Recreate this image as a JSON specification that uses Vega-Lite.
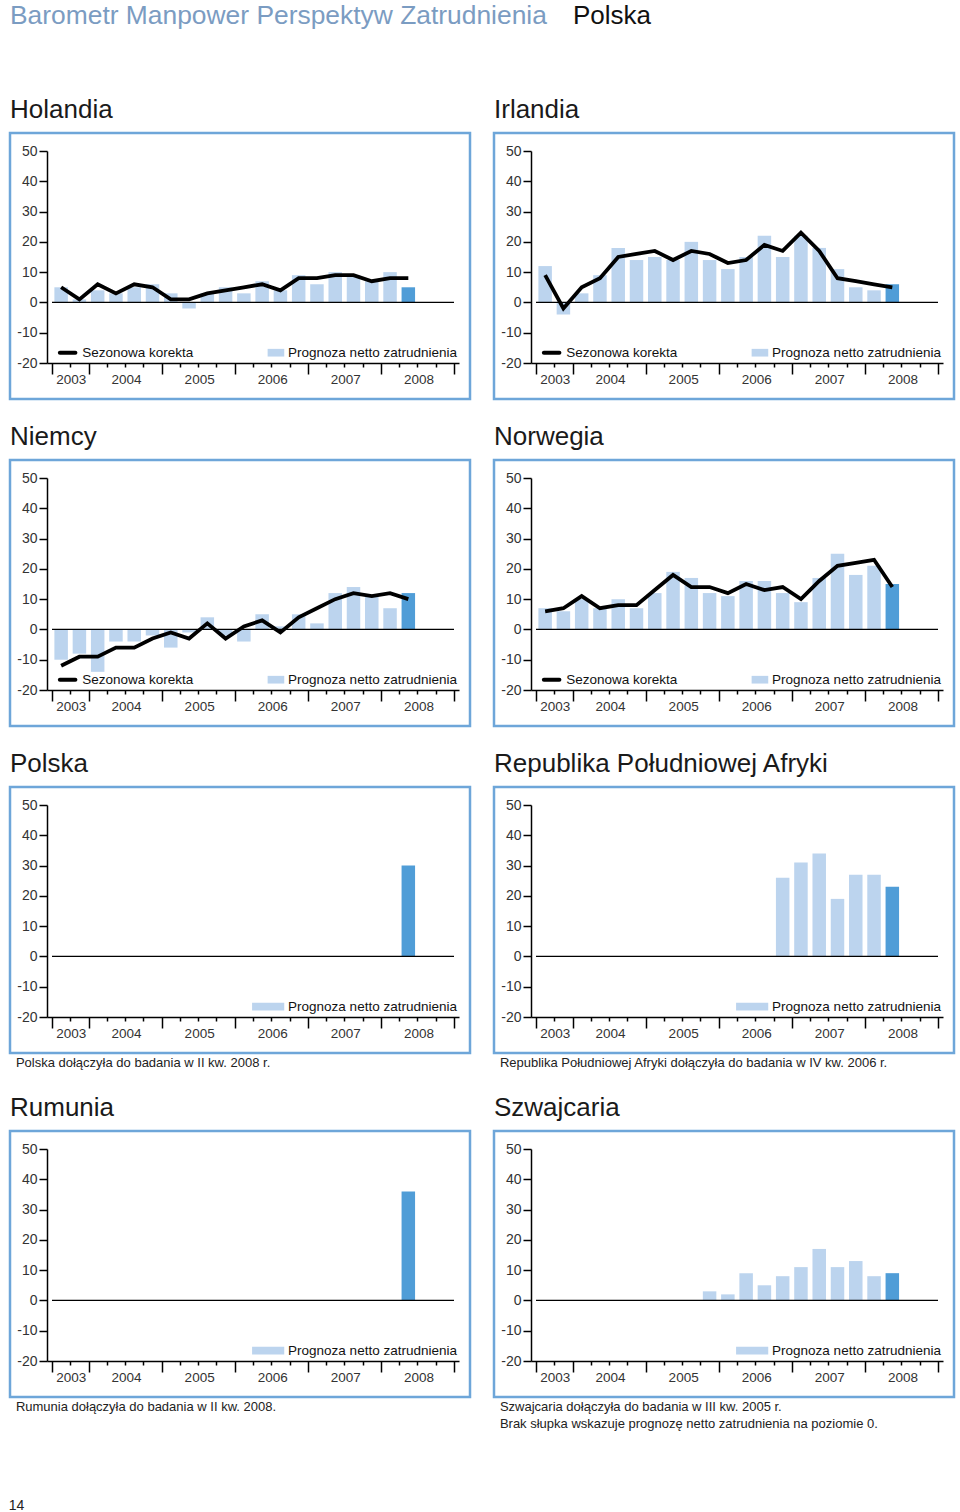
{
  "$schema": "https://vega.github.io/schema/vega-lite/v6.json",
  "background": "white",
  "padding": {"left": 8, "top": 2, "right": 4, "bottom": 2},
  "config": {
    "font": "Liberation Sans",
    "view": {"stroke": "#6ea6d9", "strokeWidth": 2.5},
    "title": {"anchor": "start", "fontSize": 26, "fontWeight": "normal", "color": "#1a1a1a", "baseline": "alphabetic", "offset": 10, "font": "Liberation Sans"},
    "axis": {"grid": false},
    "text": {"font": "Liberation Sans"}
  },
  "title": {"text": "14", "orient": "bottom", "anchor": "start", "fontSize": 14, "color": "#222", "baseline": "top", "offset": 66},
  "spacing": 21,
  "datasets": {
    "holandia": [
      {"kw": 1, "okres": "2003 III", "prognoza": 5, "korekta": 5, "typ": "archiwalna"},
      {"kw": 2, "okres": "2003 IV", "prognoza": 1, "korekta": 1, "typ": "archiwalna"},
      {"kw": 3, "okres": "2004 I", "prognoza": 4, "korekta": 6, "typ": "archiwalna"},
      {"kw": 4, "okres": "2004 II", "prognoza": 3, "korekta": 3, "typ": "archiwalna"},
      {"kw": 5, "okres": "2004 III", "prognoza": 5, "korekta": 6, "typ": "archiwalna"},
      {"kw": 6, "okres": "2004 IV", "prognoza": 6, "korekta": 5, "typ": "archiwalna"},
      {"kw": 7, "okres": "2005 I", "prognoza": 3, "korekta": 1, "typ": "archiwalna"},
      {"kw": 8, "okres": "2005 II", "prognoza": -2, "korekta": 1, "typ": "archiwalna"},
      {"kw": 9, "okres": "2005 III", "prognoza": 3, "korekta": 3, "typ": "archiwalna"},
      {"kw": 10, "okres": "2005 IV", "prognoza": 5, "korekta": 4, "typ": "archiwalna"},
      {"kw": 11, "okres": "2006 I", "prognoza": 3, "korekta": 5, "typ": "archiwalna"},
      {"kw": 12, "okres": "2006 II", "prognoza": 7, "korekta": 6, "typ": "archiwalna"},
      {"kw": 13, "okres": "2006 III", "prognoza": 4, "korekta": 4, "typ": "archiwalna"},
      {"kw": 14, "okres": "2006 IV", "prognoza": 9, "korekta": 8, "typ": "archiwalna"},
      {"kw": 15, "okres": "2007 I", "prognoza": 6, "korekta": 8, "typ": "archiwalna"},
      {"kw": 16, "okres": "2007 II", "prognoza": 10, "korekta": 9, "typ": "archiwalna"},
      {"kw": 17, "okres": "2007 III", "prognoza": 9, "korekta": 9, "typ": "archiwalna"},
      {"kw": 18, "okres": "2007 IV", "prognoza": 7, "korekta": 7, "typ": "archiwalna"},
      {"kw": 19, "okres": "2008 I", "prognoza": 10, "korekta": 8, "typ": "archiwalna"},
      {"kw": 20, "okres": "2008 II", "prognoza": 5, "korekta": 8, "typ": "aktualna"}
    ],
    "irlandia": [
      {"kw": 1, "okres": "2003 III", "prognoza": 12, "korekta": 9, "typ": "archiwalna"},
      {"kw": 2, "okres": "2003 IV", "prognoza": -4, "korekta": -2, "typ": "archiwalna"},
      {"kw": 3, "okres": "2004 I", "prognoza": 3, "korekta": 5, "typ": "archiwalna"},
      {"kw": 4, "okres": "2004 II", "prognoza": 9, "korekta": 8, "typ": "archiwalna"},
      {"kw": 5, "okres": "2004 III", "prognoza": 18, "korekta": 15, "typ": "archiwalna"},
      {"kw": 6, "okres": "2004 IV", "prognoza": 14, "korekta": 16, "typ": "archiwalna"},
      {"kw": 7, "okres": "2005 I", "prognoza": 15, "korekta": 17, "typ": "archiwalna"},
      {"kw": 8, "okres": "2005 II", "prognoza": 14, "korekta": 14, "typ": "archiwalna"},
      {"kw": 9, "okres": "2005 III", "prognoza": 20, "korekta": 17, "typ": "archiwalna"},
      {"kw": 10, "okres": "2005 IV", "prognoza": 14, "korekta": 16, "typ": "archiwalna"},
      {"kw": 11, "okres": "2006 I", "prognoza": 11, "korekta": 13, "typ": "archiwalna"},
      {"kw": 12, "okres": "2006 II", "prognoza": 15, "korekta": 14, "typ": "archiwalna"},
      {"kw": 13, "okres": "2006 III", "prognoza": 22, "korekta": 19, "typ": "archiwalna"},
      {"kw": 14, "okres": "2006 IV", "prognoza": 15, "korekta": 17, "typ": "archiwalna"},
      {"kw": 15, "okres": "2007 I", "prognoza": 22, "korekta": 23, "typ": "archiwalna"},
      {"kw": 16, "okres": "2007 II", "prognoza": 18, "korekta": 17, "typ": "archiwalna"},
      {"kw": 17, "okres": "2007 III", "prognoza": 11, "korekta": 8, "typ": "archiwalna"},
      {"kw": 18, "okres": "2007 IV", "prognoza": 5, "korekta": 7, "typ": "archiwalna"},
      {"kw": 19, "okres": "2008 I", "prognoza": 4, "korekta": 6, "typ": "archiwalna"},
      {"kw": 20, "okres": "2008 II", "prognoza": 6, "korekta": 5, "typ": "aktualna"}
    ],
    "niemcy": [
      {"kw": 1, "okres": "2003 III", "prognoza": -10, "korekta": -12, "typ": "archiwalna"},
      {"kw": 2, "okres": "2003 IV", "prognoza": -8, "korekta": -9, "typ": "archiwalna"},
      {"kw": 3, "okres": "2004 I", "prognoza": -14, "korekta": -9, "typ": "archiwalna"},
      {"kw": 4, "okres": "2004 II", "prognoza": -4, "korekta": -6, "typ": "archiwalna"},
      {"kw": 5, "okres": "2004 III", "prognoza": -4, "korekta": -6, "typ": "archiwalna"},
      {"kw": 6, "okres": "2004 IV", "prognoza": -2, "korekta": -3, "typ": "archiwalna"},
      {"kw": 7, "okres": "2005 I", "prognoza": -6, "korekta": -1, "typ": "archiwalna"},
      {"kw": 8, "okres": "2005 II", "prognoza": -1, "korekta": -3, "typ": "archiwalna"},
      {"kw": 9, "okres": "2005 III", "prognoza": 4, "korekta": 2, "typ": "archiwalna"},
      {"kw": 10, "okres": "2005 IV", "prognoza": -2, "korekta": -3, "typ": "archiwalna"},
      {"kw": 11, "okres": "2006 I", "prognoza": -4, "korekta": 1, "typ": "archiwalna"},
      {"kw": 12, "okres": "2006 II", "prognoza": 5, "korekta": 3, "typ": "archiwalna"},
      {"kw": 13, "okres": "2006 III", "prognoza": 1, "korekta": -1, "typ": "archiwalna"},
      {"kw": 14, "okres": "2006 IV", "prognoza": 5, "korekta": 4, "typ": "archiwalna"},
      {"kw": 15, "okres": "2007 I", "prognoza": 2, "korekta": 7, "typ": "archiwalna"},
      {"kw": 16, "okres": "2007 II", "prognoza": 12, "korekta": 10, "typ": "archiwalna"},
      {"kw": 17, "okres": "2007 III", "prognoza": 14, "korekta": 12, "typ": "archiwalna"},
      {"kw": 18, "okres": "2007 IV", "prognoza": 11, "korekta": 11, "typ": "archiwalna"},
      {"kw": 19, "okres": "2008 I", "prognoza": 7, "korekta": 12, "typ": "archiwalna"},
      {"kw": 20, "okres": "2008 II", "prognoza": 12, "korekta": 10, "typ": "aktualna"}
    ],
    "norwegia": [
      {"kw": 1, "okres": "2003 III", "prognoza": 7, "korekta": 6, "typ": "archiwalna"},
      {"kw": 2, "okres": "2003 IV", "prognoza": 6, "korekta": 7, "typ": "archiwalna"},
      {"kw": 3, "okres": "2004 I", "prognoza": 10, "korekta": 11, "typ": "archiwalna"},
      {"kw": 4, "okres": "2004 II", "prognoza": 7, "korekta": 7, "typ": "archiwalna"},
      {"kw": 5, "okres": "2004 III", "prognoza": 10, "korekta": 8, "typ": "archiwalna"},
      {"kw": 6, "okres": "2004 IV", "prognoza": 7, "korekta": 8, "typ": "archiwalna"},
      {"kw": 7, "okres": "2005 I", "prognoza": 12, "korekta": 13, "typ": "archiwalna"},
      {"kw": 8, "okres": "2005 II", "prognoza": 19, "korekta": 18, "typ": "archiwalna"},
      {"kw": 9, "okres": "2005 III", "prognoza": 17, "korekta": 14, "typ": "archiwalna"},
      {"kw": 10, "okres": "2005 IV", "prognoza": 12, "korekta": 14, "typ": "archiwalna"},
      {"kw": 11, "okres": "2006 I", "prognoza": 11, "korekta": 12, "typ": "archiwalna"},
      {"kw": 12, "okres": "2006 II", "prognoza": 16, "korekta": 15, "typ": "archiwalna"},
      {"kw": 13, "okres": "2006 III", "prognoza": 16, "korekta": 13, "typ": "archiwalna"},
      {"kw": 14, "okres": "2006 IV", "prognoza": 12, "korekta": 14, "typ": "archiwalna"},
      {"kw": 15, "okres": "2007 I", "prognoza": 9, "korekta": 10, "typ": "archiwalna"},
      {"kw": 16, "okres": "2007 II", "prognoza": 17, "korekta": 16, "typ": "archiwalna"},
      {"kw": 17, "okres": "2007 III", "prognoza": 25, "korekta": 21, "typ": "archiwalna"},
      {"kw": 18, "okres": "2007 IV", "prognoza": 18, "korekta": 22, "typ": "archiwalna"},
      {"kw": 19, "okres": "2008 I", "prognoza": 21, "korekta": 23, "typ": "archiwalna"},
      {"kw": 20, "okres": "2008 II", "prognoza": 15, "korekta": 14, "typ": "aktualna"}
    ],
    "polska": [
      {"kw": 20, "okres": "2008 II", "prognoza": 30, "typ": "aktualna"}
    ],
    "rpa": [
      {"kw": 14, "okres": "2006 IV", "prognoza": 26, "typ": "archiwalna"},
      {"kw": 15, "okres": "2007 I", "prognoza": 31, "typ": "archiwalna"},
      {"kw": 16, "okres": "2007 II", "prognoza": 34, "typ": "archiwalna"},
      {"kw": 17, "okres": "2007 III", "prognoza": 19, "typ": "archiwalna"},
      {"kw": 18, "okres": "2007 IV", "prognoza": 27, "typ": "archiwalna"},
      {"kw": 19, "okres": "2008 I", "prognoza": 27, "typ": "archiwalna"},
      {"kw": 20, "okres": "2008 II", "prognoza": 23, "typ": "aktualna"}
    ],
    "rumunia": [
      {"kw": 20, "okres": "2008 II", "prognoza": 36, "typ": "aktualna"}
    ],
    "szwajcaria": [
      {"kw": 9, "okres": "2005 III", "prognoza": 0, "typ": "archiwalna"},
      {"kw": 10, "okres": "2005 IV", "prognoza": 3, "typ": "archiwalna"},
      {"kw": 11, "okres": "2006 I", "prognoza": 2, "typ": "archiwalna"},
      {"kw": 12, "okres": "2006 II", "prognoza": 9, "typ": "archiwalna"},
      {"kw": 13, "okres": "2006 III", "prognoza": 5, "typ": "archiwalna"},
      {"kw": 14, "okres": "2006 IV", "prognoza": 8, "typ": "archiwalna"},
      {"kw": 15, "okres": "2007 I", "prognoza": 11, "typ": "archiwalna"},
      {"kw": 16, "okres": "2007 II", "prognoza": 17, "typ": "archiwalna"},
      {"kw": 17, "okres": "2007 III", "prognoza": 11, "typ": "archiwalna"},
      {"kw": 18, "okres": "2007 IV", "prognoza": 13, "typ": "archiwalna"},
      {"kw": 19, "okres": "2008 I", "prognoza": 8, "typ": "archiwalna"},
      {"kw": 20, "okres": "2008 II", "prognoza": 9, "typ": "aktualna"}
    ]
  },
  "vconcat": [
    {
      "spacing": 10,
      "hconcat": [
        {"width": 553, "height": 45, "view": {"stroke": null}, "data": {"values": []}, "mark": "point",
         "title": {"text": "Barometr Manpower Perspektyw Zatrudnienia", "color": "#7b9cc2", "offset": 0, "fontSize": 26.4}},
        {"width": 100, "height": 45, "view": {"stroke": null}, "data": {"values": []}, "mark": "point",
         "title": {"text": "Polska", "color": "#111111", "offset": 0}}
      ]
    },
    {
      "spacing": 20,
      "hconcat": [
        {
          "width": 460, "height": 266, "title": {"text": "Holandia"}, "data": {"name": "holandia"},
          "resolve": {"axis": {"x": "independent", "y": "independent"}},
          "layer": [
            {"mark": {"type": "bar", "width": 13.5},
             "encoding": {
               "x": {"field": "kw", "type": "quantitative", "scale": {"domain": [0.5, 22.5], "range": [37, 449], "nice": false, "zero": false},
                     "axis": {"values": [0.5,1.5,2.5,3.5,4.5,5.5,6.5,7.5,8.5,9.5,10.5,11.5,12.5,13.5,14.5,15.5,16.5,17.5,18.5,19.5,20.5,21.5,22.5], "offset": -36, "title": null, "grid": false, "domainColor": "#000", "domainWidth": 1.5, "tickColor": "#000", "tickWidth": 1.5, "tickSize": {"condition": {"test": "datum.value < 1 || (datum.value - 2.5) % 4 == 0", "value": 11}, "value": 4}, "labelExpr": "datum.value == 0.5 ? '2003' : datum.value == 2.5 ? '2004' : datum.value == 6.5 ? '2005' : datum.value == 10.5 ? '2006' : datum.value == 14.5 ? '2007' : datum.value == 18.5 ? '2008' : ''", "labelOffset": {"condition": [{"test": "datum.value < 1", "value": 18.7}, {"test": "datum.value > 20 || (datum.value - 2.5) % 4 != 0", "value": 0}], "value": 37.5}, "labelPadding": -2, "labelFontSize": 13.5, "labelColor": "#333", "labelFlush": false, "labelOverlap": false, "labelBound": false, "labelAlign": "center", "labelBaseline": "top"}},
               "y": {"field": "prognoza", "type": "quantitative", "scale": {"domain": [-20, 50], "range": [230, 18], "nice": false, "zero": false},
                     "axis": {"values": [-20,-10,0,10,20,30,40,50], "labelExpr": "'' + datum.value", "offset": -37, "title": null, "grid": false, "domainColor": "#000", "domainWidth": 1.5, "tickColor": "#000", "tickWidth": 1.5, "tickSize": 8, "labelPadding": 2, "labelFontSize": 14, "labelColor": "#333", "labelFlush": false, "labelOverlap": false, "labelBound": false}},
               "y2": {"datum": 0},
               "color": {"field": "typ", "type": "nominal", "scale": {"domain": ["archiwalna", "aktualna"], "range": ["#bcd4ee", "#509dd7"]}, "legend": null}
             }},
            {"data": {"values": [{}]}, "mark": {"type": "rule", "color": "#000", "strokeWidth": 1.3}, "encoding": {"x": {"datum": 0.5, "axis": null}, "x2": {"datum": 22.5}, "y": {"datum": 0, "axis": null}}},
            {"mark": {"type": "line", "color": "#000", "strokeWidth": 3.8}, "encoding": {"x": {"field": "kw", "type": "quantitative", "axis": null}, "y": {"field": "korekta", "type": "quantitative", "axis": null}}},
            {"data": {"values": [{}]}, "mark": {"type": "rule", "color": "#000", "strokeWidth": 4, "strokeCap": "round"}, "encoding": {"x": {"datum": 0.93, "axis": null}, "x2": {"datum": 1.78}, "y": {"datum": -16.6, "axis": null}}},
            {"data": {"values": [{}]}, "mark": {"type": "text", "text": "Sezonowa korekta", "align": "left", "baseline": "middle", "fontSize": 13.5, "color": "#111"}, "encoding": {"x": {"datum": 2.155, "axis": null}, "y": {"datum": -16.6, "axis": null}}},
            {"data": {"values": [{}]}, "mark": {"type": "rect", "color": "#bcd4ee"}, "encoding": {"x": {"datum": 12.3, "axis": null}, "x2": {"datum": 13.21}, "y": {"datum": -15.33, "axis": null}, "y2": {"datum": -17.87}}},
            {"data": {"values": [{}]}, "mark": {"type": "text", "text": "Prognoza netto zatrudnienia", "align": "left", "baseline": "middle", "fontSize": 13.5, "color": "#111"}, "encoding": {"x": {"datum": 13.42, "axis": null}, "y": {"datum": -16.6, "axis": null}}}
          ]
        },
        {
          "width": 460, "height": 266, "title": {"text": "Irlandia"}, "data": {"name": "irlandia"},
          "resolve": {"axis": {"x": "independent", "y": "independent"}},
          "layer": [
            {"mark": {"type": "bar", "width": 13.5},
             "encoding": {
               "x": {"field": "kw", "type": "quantitative", "scale": {"domain": [0.5, 22.5], "range": [37, 449], "nice": false, "zero": false},
                     "axis": {"values": [0.5,1.5,2.5,3.5,4.5,5.5,6.5,7.5,8.5,9.5,10.5,11.5,12.5,13.5,14.5,15.5,16.5,17.5,18.5,19.5,20.5,21.5,22.5], "offset": -36, "title": null, "grid": false, "domainColor": "#000", "domainWidth": 1.5, "tickColor": "#000", "tickWidth": 1.5, "tickSize": {"condition": {"test": "datum.value < 1 || (datum.value - 2.5) % 4 == 0", "value": 11}, "value": 4}, "labelExpr": "datum.value == 0.5 ? '2003' : datum.value == 2.5 ? '2004' : datum.value == 6.5 ? '2005' : datum.value == 10.5 ? '2006' : datum.value == 14.5 ? '2007' : datum.value == 18.5 ? '2008' : ''", "labelOffset": {"condition": [{"test": "datum.value < 1", "value": 18.7}, {"test": "datum.value > 20 || (datum.value - 2.5) % 4 != 0", "value": 0}], "value": 37.5}, "labelPadding": -2, "labelFontSize": 13.5, "labelColor": "#333", "labelFlush": false, "labelOverlap": false, "labelBound": false, "labelAlign": "center", "labelBaseline": "top"}},
               "y": {"field": "prognoza", "type": "quantitative", "scale": {"domain": [-20, 50], "range": [230, 18], "nice": false, "zero": false},
                     "axis": {"values": [-20,-10,0,10,20,30,40,50], "labelExpr": "'' + datum.value", "offset": -37, "title": null, "grid": false, "domainColor": "#000", "domainWidth": 1.5, "tickColor": "#000", "tickWidth": 1.5, "tickSize": 8, "labelPadding": 2, "labelFontSize": 14, "labelColor": "#333", "labelFlush": false, "labelOverlap": false, "labelBound": false}},
               "y2": {"datum": 0},
               "color": {"field": "typ", "type": "nominal", "scale": {"domain": ["archiwalna", "aktualna"], "range": ["#bcd4ee", "#509dd7"]}, "legend": null}
             }},
            {"data": {"values": [{}]}, "mark": {"type": "rule", "color": "#000", "strokeWidth": 1.3}, "encoding": {"x": {"datum": 0.5, "axis": null}, "x2": {"datum": 22.5}, "y": {"datum": 0, "axis": null}}},
            {"mark": {"type": "line", "color": "#000", "strokeWidth": 3.8}, "encoding": {"x": {"field": "kw", "type": "quantitative", "axis": null}, "y": {"field": "korekta", "type": "quantitative", "axis": null}}},
            {"data": {"values": [{}]}, "mark": {"type": "rule", "color": "#000", "strokeWidth": 4, "strokeCap": "round"}, "encoding": {"x": {"datum": 0.93, "axis": null}, "x2": {"datum": 1.78}, "y": {"datum": -16.6, "axis": null}}},
            {"data": {"values": [{}]}, "mark": {"type": "text", "text": "Sezonowa korekta", "align": "left", "baseline": "middle", "fontSize": 13.5, "color": "#111"}, "encoding": {"x": {"datum": 2.155, "axis": null}, "y": {"datum": -16.6, "axis": null}}},
            {"data": {"values": [{}]}, "mark": {"type": "rect", "color": "#bcd4ee"}, "encoding": {"x": {"datum": 12.3, "axis": null}, "x2": {"datum": 13.21}, "y": {"datum": -15.33, "axis": null}, "y2": {"datum": -17.87}}},
            {"data": {"values": [{}]}, "mark": {"type": "text", "text": "Prognoza netto zatrudnienia", "align": "left", "baseline": "middle", "fontSize": 13.5, "color": "#111"}, "encoding": {"x": {"datum": 13.42, "axis": null}, "y": {"datum": -16.6, "axis": null}}}
          ]
        }
      ]
    },
    {
      "spacing": 20,
      "hconcat": [
        {
          "width": 460, "height": 266, "title": {"text": "Niemcy"}, "data": {"name": "niemcy"},
          "resolve": {"axis": {"x": "independent", "y": "independent"}},
          "layer": [
            {"mark": {"type": "bar", "width": 13.5},
             "encoding": {
               "x": {"field": "kw", "type": "quantitative", "scale": {"domain": [0.5, 22.5], "range": [37, 449], "nice": false, "zero": false},
                     "axis": {"values": [0.5,1.5,2.5,3.5,4.5,5.5,6.5,7.5,8.5,9.5,10.5,11.5,12.5,13.5,14.5,15.5,16.5,17.5,18.5,19.5,20.5,21.5,22.5], "offset": -36, "title": null, "grid": false, "domainColor": "#000", "domainWidth": 1.5, "tickColor": "#000", "tickWidth": 1.5, "tickSize": {"condition": {"test": "datum.value < 1 || (datum.value - 2.5) % 4 == 0", "value": 11}, "value": 4}, "labelExpr": "datum.value == 0.5 ? '2003' : datum.value == 2.5 ? '2004' : datum.value == 6.5 ? '2005' : datum.value == 10.5 ? '2006' : datum.value == 14.5 ? '2007' : datum.value == 18.5 ? '2008' : ''", "labelOffset": {"condition": [{"test": "datum.value < 1", "value": 18.7}, {"test": "datum.value > 20 || (datum.value - 2.5) % 4 != 0", "value": 0}], "value": 37.5}, "labelPadding": -2, "labelFontSize": 13.5, "labelColor": "#333", "labelFlush": false, "labelOverlap": false, "labelBound": false, "labelAlign": "center", "labelBaseline": "top"}},
               "y": {"field": "prognoza", "type": "quantitative", "scale": {"domain": [-20, 50], "range": [230, 18], "nice": false, "zero": false},
                     "axis": {"values": [-20,-10,0,10,20,30,40,50], "labelExpr": "'' + datum.value", "offset": -37, "title": null, "grid": false, "domainColor": "#000", "domainWidth": 1.5, "tickColor": "#000", "tickWidth": 1.5, "tickSize": 8, "labelPadding": 2, "labelFontSize": 14, "labelColor": "#333", "labelFlush": false, "labelOverlap": false, "labelBound": false}},
               "y2": {"datum": 0},
               "color": {"field": "typ", "type": "nominal", "scale": {"domain": ["archiwalna", "aktualna"], "range": ["#bcd4ee", "#509dd7"]}, "legend": null}
             }},
            {"data": {"values": [{}]}, "mark": {"type": "rule", "color": "#000", "strokeWidth": 1.3}, "encoding": {"x": {"datum": 0.5, "axis": null}, "x2": {"datum": 22.5}, "y": {"datum": 0, "axis": null}}},
            {"mark": {"type": "line", "color": "#000", "strokeWidth": 3.8}, "encoding": {"x": {"field": "kw", "type": "quantitative", "axis": null}, "y": {"field": "korekta", "type": "quantitative", "axis": null}}},
            {"data": {"values": [{}]}, "mark": {"type": "rule", "color": "#000", "strokeWidth": 4, "strokeCap": "round"}, "encoding": {"x": {"datum": 0.93, "axis": null}, "x2": {"datum": 1.78}, "y": {"datum": -16.6, "axis": null}}},
            {"data": {"values": [{}]}, "mark": {"type": "text", "text": "Sezonowa korekta", "align": "left", "baseline": "middle", "fontSize": 13.5, "color": "#111"}, "encoding": {"x": {"datum": 2.155, "axis": null}, "y": {"datum": -16.6, "axis": null}}},
            {"data": {"values": [{}]}, "mark": {"type": "rect", "color": "#bcd4ee"}, "encoding": {"x": {"datum": 12.3, "axis": null}, "x2": {"datum": 13.21}, "y": {"datum": -15.33, "axis": null}, "y2": {"datum": -17.87}}},
            {"data": {"values": [{}]}, "mark": {"type": "text", "text": "Prognoza netto zatrudnienia", "align": "left", "baseline": "middle", "fontSize": 13.5, "color": "#111"}, "encoding": {"x": {"datum": 13.42, "axis": null}, "y": {"datum": -16.6, "axis": null}}}
          ]
        },
        {
          "width": 460, "height": 266, "title": {"text": "Norwegia"}, "data": {"name": "norwegia"},
          "resolve": {"axis": {"x": "independent", "y": "independent"}},
          "layer": [
            {"mark": {"type": "bar", "width": 13.5},
             "encoding": {
               "x": {"field": "kw", "type": "quantitative", "scale": {"domain": [0.5, 22.5], "range": [37, 449], "nice": false, "zero": false},
                     "axis": {"values": [0.5,1.5,2.5,3.5,4.5,5.5,6.5,7.5,8.5,9.5,10.5,11.5,12.5,13.5,14.5,15.5,16.5,17.5,18.5,19.5,20.5,21.5,22.5], "offset": -36, "title": null, "grid": false, "domainColor": "#000", "domainWidth": 1.5, "tickColor": "#000", "tickWidth": 1.5, "tickSize": {"condition": {"test": "datum.value < 1 || (datum.value - 2.5) % 4 == 0", "value": 11}, "value": 4}, "labelExpr": "datum.value == 0.5 ? '2003' : datum.value == 2.5 ? '2004' : datum.value == 6.5 ? '2005' : datum.value == 10.5 ? '2006' : datum.value == 14.5 ? '2007' : datum.value == 18.5 ? '2008' : ''", "labelOffset": {"condition": [{"test": "datum.value < 1", "value": 18.7}, {"test": "datum.value > 20 || (datum.value - 2.5) % 4 != 0", "value": 0}], "value": 37.5}, "labelPadding": -2, "labelFontSize": 13.5, "labelColor": "#333", "labelFlush": false, "labelOverlap": false, "labelBound": false, "labelAlign": "center", "labelBaseline": "top"}},
               "y": {"field": "prognoza", "type": "quantitative", "scale": {"domain": [-20, 50], "range": [230, 18], "nice": false, "zero": false},
                     "axis": {"values": [-20,-10,0,10,20,30,40,50], "labelExpr": "'' + datum.value", "offset": -37, "title": null, "grid": false, "domainColor": "#000", "domainWidth": 1.5, "tickColor": "#000", "tickWidth": 1.5, "tickSize": 8, "labelPadding": 2, "labelFontSize": 14, "labelColor": "#333", "labelFlush": false, "labelOverlap": false, "labelBound": false}},
               "y2": {"datum": 0},
               "color": {"field": "typ", "type": "nominal", "scale": {"domain": ["archiwalna", "aktualna"], "range": ["#bcd4ee", "#509dd7"]}, "legend": null}
             }},
            {"data": {"values": [{}]}, "mark": {"type": "rule", "color": "#000", "strokeWidth": 1.3}, "encoding": {"x": {"datum": 0.5, "axis": null}, "x2": {"datum": 22.5}, "y": {"datum": 0, "axis": null}}},
            {"mark": {"type": "line", "color": "#000", "strokeWidth": 3.8}, "encoding": {"x": {"field": "kw", "type": "quantitative", "axis": null}, "y": {"field": "korekta", "type": "quantitative", "axis": null}}},
            {"data": {"values": [{}]}, "mark": {"type": "rule", "color": "#000", "strokeWidth": 4, "strokeCap": "round"}, "encoding": {"x": {"datum": 0.93, "axis": null}, "x2": {"datum": 1.78}, "y": {"datum": -16.6, "axis": null}}},
            {"data": {"values": [{}]}, "mark": {"type": "text", "text": "Sezonowa korekta", "align": "left", "baseline": "middle", "fontSize": 13.5, "color": "#111"}, "encoding": {"x": {"datum": 2.155, "axis": null}, "y": {"datum": -16.6, "axis": null}}},
            {"data": {"values": [{}]}, "mark": {"type": "rect", "color": "#bcd4ee"}, "encoding": {"x": {"datum": 12.3, "axis": null}, "x2": {"datum": 13.21}, "y": {"datum": -15.33, "axis": null}, "y2": {"datum": -17.87}}},
            {"data": {"values": [{}]}, "mark": {"type": "text", "text": "Prognoza netto zatrudnienia", "align": "left", "baseline": "middle", "fontSize": 13.5, "color": "#111"}, "encoding": {"x": {"datum": 13.42, "axis": null}, "y": {"datum": -16.6, "axis": null}}}
          ]
        }
      ]
    },
    {
      "spacing": 20,
      "hconcat": [
        {
          "width": 460, "height": 266, "title": {"text": "Polska"}, "data": {"name": "polska"},
          "resolve": {"axis": {"x": "independent", "y": "independent"}},
          "layer": [
            {"mark": {"type": "bar", "width": 13.5},
             "encoding": {
               "x": {"field": "kw", "type": "quantitative", "scale": {"domain": [0.5, 22.5], "range": [37, 449], "nice": false, "zero": false},
                     "axis": {"values": [0.5,1.5,2.5,3.5,4.5,5.5,6.5,7.5,8.5,9.5,10.5,11.5,12.5,13.5,14.5,15.5,16.5,17.5,18.5,19.5,20.5,21.5,22.5], "offset": -36, "title": null, "grid": false, "domainColor": "#000", "domainWidth": 1.5, "tickColor": "#000", "tickWidth": 1.5, "tickSize": {"condition": {"test": "datum.value < 1 || (datum.value - 2.5) % 4 == 0", "value": 11}, "value": 4}, "labelExpr": "datum.value == 0.5 ? '2003' : datum.value == 2.5 ? '2004' : datum.value == 6.5 ? '2005' : datum.value == 10.5 ? '2006' : datum.value == 14.5 ? '2007' : datum.value == 18.5 ? '2008' : ''", "labelOffset": {"condition": [{"test": "datum.value < 1", "value": 18.7}, {"test": "datum.value > 20 || (datum.value - 2.5) % 4 != 0", "value": 0}], "value": 37.5}, "labelPadding": -2, "labelFontSize": 13.5, "labelColor": "#333", "labelFlush": false, "labelOverlap": false, "labelBound": false, "labelAlign": "center", "labelBaseline": "top"}},
               "y": {"field": "prognoza", "type": "quantitative", "scale": {"domain": [-20, 50], "range": [230, 18], "nice": false, "zero": false},
                     "axis": {"values": [-20,-10,0,10,20,30,40,50], "labelExpr": "'' + datum.value", "offset": -37, "title": null, "grid": false, "domainColor": "#000", "domainWidth": 1.5, "tickColor": "#000", "tickWidth": 1.5, "tickSize": 8, "labelPadding": 2, "labelFontSize": 14, "labelColor": "#333", "labelFlush": false, "labelOverlap": false, "labelBound": false}},
               "y2": {"datum": 0},
               "color": {"field": "typ", "type": "nominal", "scale": {"domain": ["archiwalna", "aktualna"], "range": ["#bcd4ee", "#509dd7"]}, "legend": null}
             }},
            {"data": {"values": [{}]}, "mark": {"type": "rule", "color": "#000", "strokeWidth": 1.3}, "encoding": {"x": {"datum": 0.5, "axis": null}, "x2": {"datum": 22.5}, "y": {"datum": 0, "axis": null}}},
            {"data": {"values": [{}]}, "mark": {"type": "rect", "color": "#bcd4ee"}, "encoding": {"x": {"datum": 11.45, "axis": null}, "x2": {"datum": 13.21}, "y": {"datum": -15.33, "axis": null}, "y2": {"datum": -17.87}}},
            {"data": {"values": [{}]}, "mark": {"type": "text", "text": "Prognoza netto zatrudnienia", "align": "left", "baseline": "middle", "fontSize": 13.5, "color": "#111"}, "encoding": {"x": {"datum": 13.42, "axis": null}, "y": {"datum": -16.6, "axis": null}}},
            {"data": {"values": [{}]}, "mark": {"type": "text", "text": "Polska dołączyła do badania w II kw. 2008 r.", "align": "left", "baseline": "top", "fontSize": 13, "color": "#222"}, "encoding": {"x": {"datum": -1.476, "axis": null}, "y": {"datum": -33.3, "axis": null}}}
          ]
        },
        {
          "width": 460, "height": 266, "title": {"text": "Republika Południowej Afryki"}, "data": {"name": "rpa"},
          "resolve": {"axis": {"x": "independent", "y": "independent"}},
          "layer": [
            {"mark": {"type": "bar", "width": 13.5},
             "encoding": {
               "x": {"field": "kw", "type": "quantitative", "scale": {"domain": [0.5, 22.5], "range": [37, 449], "nice": false, "zero": false},
                     "axis": {"values": [0.5,1.5,2.5,3.5,4.5,5.5,6.5,7.5,8.5,9.5,10.5,11.5,12.5,13.5,14.5,15.5,16.5,17.5,18.5,19.5,20.5,21.5,22.5], "offset": -36, "title": null, "grid": false, "domainColor": "#000", "domainWidth": 1.5, "tickColor": "#000", "tickWidth": 1.5, "tickSize": {"condition": {"test": "datum.value < 1 || (datum.value - 2.5) % 4 == 0", "value": 11}, "value": 4}, "labelExpr": "datum.value == 0.5 ? '2003' : datum.value == 2.5 ? '2004' : datum.value == 6.5 ? '2005' : datum.value == 10.5 ? '2006' : datum.value == 14.5 ? '2007' : datum.value == 18.5 ? '2008' : ''", "labelOffset": {"condition": [{"test": "datum.value < 1", "value": 18.7}, {"test": "datum.value > 20 || (datum.value - 2.5) % 4 != 0", "value": 0}], "value": 37.5}, "labelPadding": -2, "labelFontSize": 13.5, "labelColor": "#333", "labelFlush": false, "labelOverlap": false, "labelBound": false, "labelAlign": "center", "labelBaseline": "top"}},
               "y": {"field": "prognoza", "type": "quantitative", "scale": {"domain": [-20, 50], "range": [230, 18], "nice": false, "zero": false},
                     "axis": {"values": [-20,-10,0,10,20,30,40,50], "labelExpr": "'' + datum.value", "offset": -37, "title": null, "grid": false, "domainColor": "#000", "domainWidth": 1.5, "tickColor": "#000", "tickWidth": 1.5, "tickSize": 8, "labelPadding": 2, "labelFontSize": 14, "labelColor": "#333", "labelFlush": false, "labelOverlap": false, "labelBound": false}},
               "y2": {"datum": 0},
               "color": {"field": "typ", "type": "nominal", "scale": {"domain": ["archiwalna", "aktualna"], "range": ["#bcd4ee", "#509dd7"]}, "legend": null}
             }},
            {"data": {"values": [{}]}, "mark": {"type": "rule", "color": "#000", "strokeWidth": 1.3}, "encoding": {"x": {"datum": 0.5, "axis": null}, "x2": {"datum": 22.5}, "y": {"datum": 0, "axis": null}}},
            {"data": {"values": [{}]}, "mark": {"type": "rect", "color": "#bcd4ee"}, "encoding": {"x": {"datum": 11.45, "axis": null}, "x2": {"datum": 13.21}, "y": {"datum": -15.33, "axis": null}, "y2": {"datum": -17.87}}},
            {"data": {"values": [{}]}, "mark": {"type": "text", "text": "Prognoza netto zatrudnienia", "align": "left", "baseline": "middle", "fontSize": 13.5, "color": "#111"}, "encoding": {"x": {"datum": 13.42, "axis": null}, "y": {"datum": -16.6, "axis": null}}},
            {"data": {"values": [{}]}, "mark": {"type": "text", "text": "Republika Południowej Afryki dołączyła do badania w IV kw. 2006 r.", "align": "left", "baseline": "top", "fontSize": 13, "color": "#222"}, "encoding": {"x": {"datum": -1.476, "axis": null}, "y": {"datum": -33.3, "axis": null}}}
          ]
        }
      ]
    },
    {
      "spacing": 20,
      "hconcat": [
        {
          "width": 460, "height": 266, "title": {"text": "Rumunia"}, "data": {"name": "rumunia"},
          "resolve": {"axis": {"x": "independent", "y": "independent"}},
          "layer": [
            {"mark": {"type": "bar", "width": 13.5},
             "encoding": {
               "x": {"field": "kw", "type": "quantitative", "scale": {"domain": [0.5, 22.5], "range": [37, 449], "nice": false, "zero": false},
                     "axis": {"values": [0.5,1.5,2.5,3.5,4.5,5.5,6.5,7.5,8.5,9.5,10.5,11.5,12.5,13.5,14.5,15.5,16.5,17.5,18.5,19.5,20.5,21.5,22.5], "offset": -36, "title": null, "grid": false, "domainColor": "#000", "domainWidth": 1.5, "tickColor": "#000", "tickWidth": 1.5, "tickSize": {"condition": {"test": "datum.value < 1 || (datum.value - 2.5) % 4 == 0", "value": 11}, "value": 4}, "labelExpr": "datum.value == 0.5 ? '2003' : datum.value == 2.5 ? '2004' : datum.value == 6.5 ? '2005' : datum.value == 10.5 ? '2006' : datum.value == 14.5 ? '2007' : datum.value == 18.5 ? '2008' : ''", "labelOffset": {"condition": [{"test": "datum.value < 1", "value": 18.7}, {"test": "datum.value > 20 || (datum.value - 2.5) % 4 != 0", "value": 0}], "value": 37.5}, "labelPadding": -2, "labelFontSize": 13.5, "labelColor": "#333", "labelFlush": false, "labelOverlap": false, "labelBound": false, "labelAlign": "center", "labelBaseline": "top"}},
               "y": {"field": "prognoza", "type": "quantitative", "scale": {"domain": [-20, 50], "range": [230, 18], "nice": false, "zero": false},
                     "axis": {"values": [-20,-10,0,10,20,30,40,50], "labelExpr": "'' + datum.value", "offset": -37, "title": null, "grid": false, "domainColor": "#000", "domainWidth": 1.5, "tickColor": "#000", "tickWidth": 1.5, "tickSize": 8, "labelPadding": 2, "labelFontSize": 14, "labelColor": "#333", "labelFlush": false, "labelOverlap": false, "labelBound": false}},
               "y2": {"datum": 0},
               "color": {"field": "typ", "type": "nominal", "scale": {"domain": ["archiwalna", "aktualna"], "range": ["#bcd4ee", "#509dd7"]}, "legend": null}
             }},
            {"data": {"values": [{}]}, "mark": {"type": "rule", "color": "#000", "strokeWidth": 1.3}, "encoding": {"x": {"datum": 0.5, "axis": null}, "x2": {"datum": 22.5}, "y": {"datum": 0, "axis": null}}},
            {"data": {"values": [{}]}, "mark": {"type": "rect", "color": "#bcd4ee"}, "encoding": {"x": {"datum": 11.45, "axis": null}, "x2": {"datum": 13.21}, "y": {"datum": -15.33, "axis": null}, "y2": {"datum": -17.87}}},
            {"data": {"values": [{}]}, "mark": {"type": "text", "text": "Prognoza netto zatrudnienia", "align": "left", "baseline": "middle", "fontSize": 13.5, "color": "#111"}, "encoding": {"x": {"datum": 13.42, "axis": null}, "y": {"datum": -16.6, "axis": null}}},
            {"data": {"values": [{}]}, "mark": {"type": "text", "text": "Rumunia dołączyła do badania w II kw. 2008.", "align": "left", "baseline": "top", "fontSize": 13, "color": "#222"}, "encoding": {"x": {"datum": -1.476, "axis": null}, "y": {"datum": -33.3, "axis": null}}}
          ]
        },
        {
          "width": 460, "height": 266, "title": {"text": "Szwajcaria"}, "data": {"name": "szwajcaria"},
          "resolve": {"axis": {"x": "independent", "y": "independent"}},
          "layer": [
            {"mark": {"type": "bar", "width": 13.5},
             "encoding": {
               "x": {"field": "kw", "type": "quantitative", "scale": {"domain": [0.5, 22.5], "range": [37, 449], "nice": false, "zero": false},
                     "axis": {"values": [0.5,1.5,2.5,3.5,4.5,5.5,6.5,7.5,8.5,9.5,10.5,11.5,12.5,13.5,14.5,15.5,16.5,17.5,18.5,19.5,20.5,21.5,22.5], "offset": -36, "title": null, "grid": false, "domainColor": "#000", "domainWidth": 1.5, "tickColor": "#000", "tickWidth": 1.5, "tickSize": {"condition": {"test": "datum.value < 1 || (datum.value - 2.5) % 4 == 0", "value": 11}, "value": 4}, "labelExpr": "datum.value == 0.5 ? '2003' : datum.value == 2.5 ? '2004' : datum.value == 6.5 ? '2005' : datum.value == 10.5 ? '2006' : datum.value == 14.5 ? '2007' : datum.value == 18.5 ? '2008' : ''", "labelOffset": {"condition": [{"test": "datum.value < 1", "value": 18.7}, {"test": "datum.value > 20 || (datum.value - 2.5) % 4 != 0", "value": 0}], "value": 37.5}, "labelPadding": -2, "labelFontSize": 13.5, "labelColor": "#333", "labelFlush": false, "labelOverlap": false, "labelBound": false, "labelAlign": "center", "labelBaseline": "top"}},
               "y": {"field": "prognoza", "type": "quantitative", "scale": {"domain": [-20, 50], "range": [230, 18], "nice": false, "zero": false},
                     "axis": {"values": [-20,-10,0,10,20,30,40,50], "labelExpr": "'' + datum.value", "offset": -37, "title": null, "grid": false, "domainColor": "#000", "domainWidth": 1.5, "tickColor": "#000", "tickWidth": 1.5, "tickSize": 8, "labelPadding": 2, "labelFontSize": 14, "labelColor": "#333", "labelFlush": false, "labelOverlap": false, "labelBound": false}},
               "y2": {"datum": 0},
               "color": {"field": "typ", "type": "nominal", "scale": {"domain": ["archiwalna", "aktualna"], "range": ["#bcd4ee", "#509dd7"]}, "legend": null}
             }},
            {"data": {"values": [{}]}, "mark": {"type": "rule", "color": "#000", "strokeWidth": 1.3}, "encoding": {"x": {"datum": 0.5, "axis": null}, "x2": {"datum": 22.5}, "y": {"datum": 0, "axis": null}}},
            {"data": {"values": [{}]}, "mark": {"type": "rect", "color": "#bcd4ee"}, "encoding": {"x": {"datum": 11.45, "axis": null}, "x2": {"datum": 13.21}, "y": {"datum": -15.33, "axis": null}, "y2": {"datum": -17.87}}},
            {"data": {"values": [{}]}, "mark": {"type": "text", "text": "Prognoza netto zatrudnienia", "align": "left", "baseline": "middle", "fontSize": 13.5, "color": "#111"}, "encoding": {"x": {"datum": 13.42, "axis": null}, "y": {"datum": -16.6, "axis": null}}},
            {"data": {"values": [{}]}, "mark": {"type": "text", "text": ["Szwajcaria dołączyła do badania w III kw. 2005 r.", "Brak słupka wskazuje prognozę netto zatrudnienia na poziomie 0."], "lineHeight": 17, "align": "left", "baseline": "top", "fontSize": 13, "color": "#222"}, "encoding": {"x": {"datum": -1.476, "axis": null}, "y": {"datum": -33.3, "axis": null}}}
          ]
        }
      ]
    }
  ]
}
